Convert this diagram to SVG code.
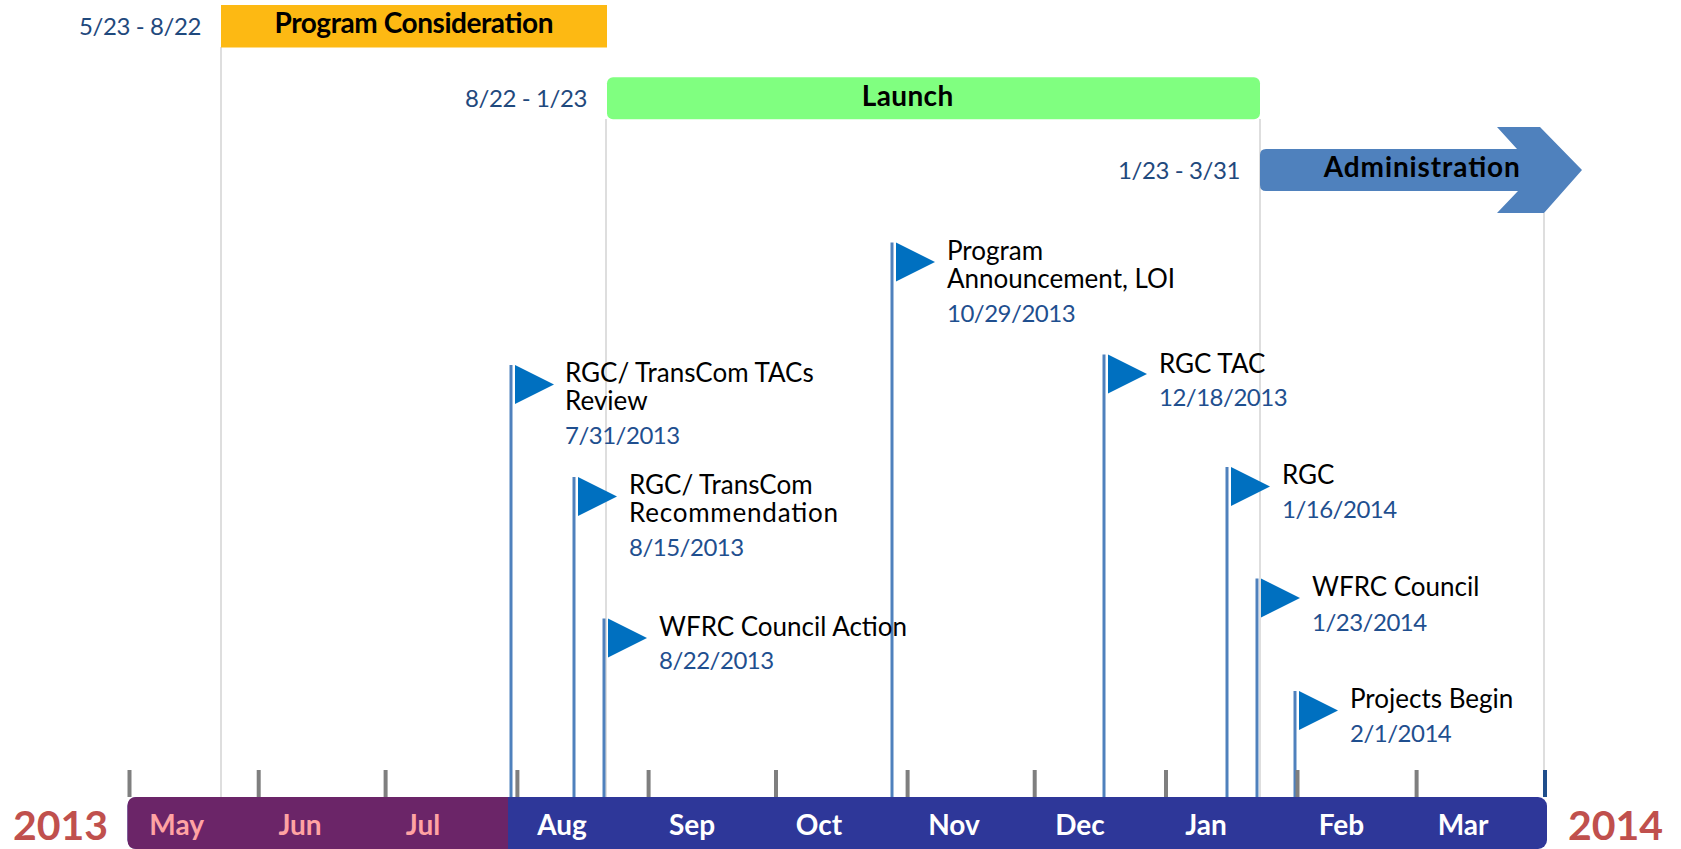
<svg xmlns="http://www.w3.org/2000/svg" width="1681" height="849" viewBox="0 0 1681 849">
<style>
.range{font-family:Lato,"Liberation Sans",sans-serif;font-size:24px;letter-spacing:-0.4px;fill:#1F497D;text-anchor:end}
.phase{font-family:Lato,"Liberation Sans",sans-serif;font-size:28px;font-weight:bold;fill:#000;text-anchor:middle}
.lbl{font-family:Lato,"Liberation Sans",sans-serif;font-size:26px;fill:#000}
.date{font-family:Lato,"Liberation Sans",sans-serif;font-size:24px;letter-spacing:-0.5px;fill:#1F4F8F}
.mon{font-family:Lato,"Liberation Sans",sans-serif;font-size:28px;font-weight:bold;fill:#fff;text-anchor:middle}
.mon.p{fill:#FFA3A3}
.year{font-family:Lato,"Liberation Sans",sans-serif;font-size:41px;font-weight:bold;fill:#C0504D}
.grid{stroke:#D3D3D3;stroke-width:1.5}
.pole{stroke:#4F81BD;stroke-width:3}
.flag{fill:#0070C0}
.tick{stroke:#7F7F7F;stroke-width:4}
</style>
<rect width="1681" height="849" fill="#fff"/>
<g id="gridlines">
<line class="grid" x1="221" y1="47" x2="221" y2="797"/>
<line class="grid" x1="606" y1="119" x2="606" y2="797"/>
<line class="grid" x1="1260" y1="119" x2="1260" y2="797"/>
<line class="grid" x1="1544" y1="213" x2="1544" y2="797"/>
</g>
<g id="phase-program-consideration">
<rect x="221" y="5" width="386" height="42.5" fill="#FDB913"/>
<text class="phase" x="414" y="33.3" textLength="279" lengthAdjust="spacing">Program Consideration</text>
<text class="range" x="201" y="35">5/23 - 8/22</text>
</g>
<g id="phase-launch">
<rect x="607" y="77.3" width="653" height="42" rx="6" fill="#80FF80"/>
<text class="phase" x="907.5" y="105.7" textLength="91.6" lengthAdjust="spacing">Launch</text>
<text class="range" x="587" y="107.3">8/22 - 1/23</text>
</g>
<g id="phase-administration">
<path d="M1266,149 H1517 L1497,127 H1540 L1582,170 L1544,213 H1497 L1518,191 H1266 Q1260,191 1260,185 V155 Q1260,149 1266,149 Z" fill="#4F81BD"/>
<text class="phase" x="1421.8" y="177.3" textLength="196" lengthAdjust="spacing">Administration</text>
<text class="range" x="1240" y="179">1/23 - 3/31</text>
</g>
<g id="connectors">
<line class="pole" x1="511" y1="365" x2="511" y2="797"/>
<line class="pole" x1="574" y1="477" x2="574" y2="797"/>
<line class="pole" x1="604" y1="618.5" x2="604" y2="797"/>
<line class="pole" x1="892" y1="242.5" x2="892" y2="797"/>
<line class="pole" x1="1104" y1="354.5" x2="1104" y2="797"/>
<line class="pole" x1="1227" y1="467" x2="1227" y2="797"/>
<line class="pole" x1="1257" y1="578.5" x2="1257" y2="797"/>
<line class="pole" x1="1295" y1="691" x2="1295" y2="797"/>
</g>
<g id="m1">
<polygon class="flag" points="515,365 515,404 554,384.5"/>
<text class="lbl" x="565" y="382.3">RGC/ TransCom TACs<tspan x="565" y="410">Review</tspan></text>
<text class="date" x="565" y="444.3">7/31/2013</text>
</g>
<g id="m2">
<polygon class="flag" points="578,477 578,516 617,496.5"/>
<text class="lbl" x="629" y="494">RGC/ TransCom<tspan x="629" y="521.7" textLength="209" lengthAdjust="spacing">Recommendation</tspan></text>
<text class="date" x="629" y="556">8/15/2013</text>
</g>
<g id="m3">
<polygon class="flag" points="608,618.5 608,657.5 647,638"/>
<text class="lbl" x="659" y="635.7">WFRC Council Action</text>
<text class="date" x="659" y="669.3">8/22/2013</text>
</g>
<g id="m4">
<polygon class="flag" points="896,242.5 896,281.5 935,262"/>
<text class="lbl" x="947" y="260">Program<tspan x="947" y="287.7">Announcement, LOI</tspan></text>
<text class="date" x="947" y="321.7">10/29/2013</text>
</g>
<g id="m5">
<polygon class="flag" points="1108,354.5 1108,393.5 1147,374"/>
<text class="lbl" x="1159" y="372.7">RGC TAC</text>
<text class="date" x="1159" y="406">12/18/2013</text>
</g>
<g id="m6">
<polygon class="flag" points="1231,467 1231,506 1270,486.5"/>
<text class="lbl" x="1282" y="484">RGC</text>
<text class="date" x="1282" y="518.3">1/16/2014</text>
</g>
<g id="m7">
<polygon class="flag" points="1261,578.5 1261,617.5 1300,598"/>
<text class="lbl" x="1312" y="596">WFRC Council</text>
<text class="date" x="1312" y="630.7">1/23/2014</text>
</g>
<g id="m8">
<polygon class="flag" points="1299,691 1299,730 1338,710.5"/>
<text class="lbl" x="1350" y="708.3">Projects Begin</text>
<text class="date" x="1350" y="742.3">2/1/2014</text>
</g>
<g id="ticks">
<line class="tick" x1="129.5" y1="770" x2="129.5" y2="797"/>
<line class="tick" x1="258.7" y1="770" x2="258.7" y2="797"/>
<line class="tick" x1="385.6" y1="770" x2="385.6" y2="797"/>
<line class="tick" x1="517.4" y1="770" x2="517.4" y2="797"/>
<line class="tick" x1="648.6" y1="770" x2="648.6" y2="797"/>
<line class="tick" x1="776" y1="770" x2="776" y2="797"/>
<line class="tick" x1="907.6" y1="770" x2="907.6" y2="797"/>
<line class="tick" x1="1034.7" y1="770" x2="1034.7" y2="797"/>
<line class="tick" x1="1166" y1="770" x2="1166" y2="797"/>
<line class="tick" x1="1297.5" y1="770" x2="1297.5" y2="797"/>
<line class="tick" x1="1416.6" y1="770" x2="1416.6" y2="797"/>
<line x1="1545" y1="770" x2="1545" y2="797" stroke="#1F4E8C" stroke-width="4"/>
</g>
<g id="timeline-bar">
<rect x="127.5" y="797" width="1419.5" height="52" rx="9" fill="#2E3799"/>
<path d="M136.5,797 H508 V849 H136.5 Q127.5,849 127.5,840 V806 Q127.5,797 136.5,797 Z" fill="#6B2568"/>
<text class="mon p" x="176.7" y="835">May</text>
<text class="mon p" x="300" y="835">Jun</text>
<text class="mon p" x="423" y="835">Jul</text>
<text class="mon" x="562" y="835">Aug</text>
<text class="mon" x="692" y="835">Sep</text>
<text class="mon" x="819" y="835">Oct</text>
<text class="mon" x="954" y="835">Nov</text>
<text class="mon" x="1080" y="835">Dec</text>
<text class="mon" x="1206" y="835">Jan</text>
<text class="mon" x="1341.5" y="835">Feb</text>
<text class="mon" x="1463" y="835">Mar</text>
</g>
<g id="years">
<text class="year" x="13" y="840">2013</text>
<text class="year" x="1568" y="840">2014</text>
</g>
</svg>
